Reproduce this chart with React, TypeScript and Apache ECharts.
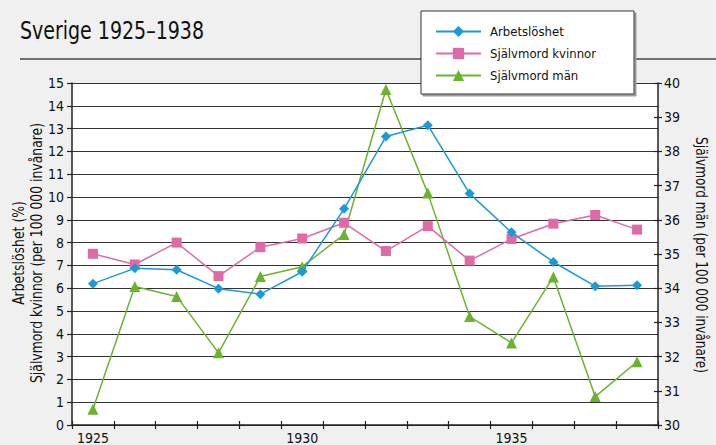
import React, { useEffect, useRef } from "react";
import * as echarts from "echarts";

const years = ["1925","1926","1927","1928","1929","1930","1931","1932","1933","1934","1935","1936","1937","1938"];
const arbetsloshet = [6.2, 6.87, 6.81, 5.98, 5.74, 6.72, 9.48, 12.65, 13.15, 10.15, 8.45, 7.15, 6.09, 6.13];
const sjalvmordKvinnor = [7.51, 7.04, 8.0, 6.53, 7.8, 8.18, 8.87, 7.63, 8.72, 7.21, 8.16, 8.83, 9.21, 8.57];
const sjalvmordMan = [30.46, 34.05, 33.76, 32.11, 34.34, 34.63, 35.57, 39.81, 36.78, 33.17, 32.4, 34.33, 30.83, 31.85];

const seriesNames = ["Arbetslöshet", "Självmord kvinnor", "Självmord män"];
const title = "Sverige 1925–1938";
const leftName1 = "Arbetslöshet (%)";
const leftName2 = "Självmord kvinnor (per 100 000 invånare)";
const rightName = "Självmord män (per 100 000 invånare)";

const FONT = '"DejaVu Sans Condensed", "Noto Sans", sans-serif';

export default function App() {
  const ref = useRef<HTMLDivElement>(null);
  useEffect(() => {
    if (!ref.current) return;
    const chart = echarts.init(ref.current, null, { renderer: "svg" });
    const axisColor = "#222";
    chart.setOption({
      animation: false,
      backgroundColor: "#f0f0f0",
      textStyle: { fontFamily: FONT },
      grid: {
        left: 72, right: 58, top: 83, bottom: 19,
        show: true, backgroundColor: "#ffffff", borderWidth: 0,
      },
      legend: {
        orient: "vertical",
        left: 421,
        top: 11,
        padding: [14, 38, 12, 14],
        itemWidth: 45,
        itemHeight: 14,
        itemGap: 9,
        backgroundColor: "#ffffff",
        borderColor: "#333",
        borderWidth: 1,
        shadowColor: "#999",
        shadowOffsetX: 2,
        shadowOffsetY: 2,
        shadowBlur: 0,
        textStyle: { fontFamily: FONT, fontSize: 13, color: "#111", padding: [0, 0, 0, 4] },
        data: seriesNames,
        z: 10,
      },
      graphic: [
        { type: "line", shape: { x1: 20, y1: 59, x2: 716, y2: 59 }, style: { stroke: "#444", lineWidth: 1.5 }, z: 0 },
        {
          type: "text", x: 20, y: 31, scaleX: 0.88,
          style: { text: title, font: `24px ${FONT}`, fill: "#111", align: "left", verticalAlign: "middle" }, z: 1,
        },
        {
          type: "text", x: 19, y: 253, rotation: Math.PI / 2, scaleX: 0.92,
          style: { text: leftName1, font: `15px ${FONT}`, fill: "#111", align: "center", verticalAlign: "middle" },
        },
        {
          type: "text", x: 37, y: 253, rotation: Math.PI / 2, scaleX: 0.92,
          style: { text: leftName2, font: `15px ${FONT}`, fill: "#111", align: "center", verticalAlign: "middle" },
        },
        {
          type: "text", x: 701, y: 255, rotation: -Math.PI / 2, scaleX: 0.9,
          style: { text: rightName, font: `15px ${FONT}`, fill: "#111", align: "center", verticalAlign: "middle" },
        },
      ],
      xAxis: [
        {
          type: "category",
          data: years,
          boundaryGap: true,
          axisLine: { lineStyle: { color: axisColor, width: 1.5 } },
          axisTick: { show: true, interval: 0, length: 4, lineStyle: { color: axisColor, width: 1.2 } },
          axisLabel: { interval: 4, margin: 6, fontSize: 14, color: "#111", fontFamily: FONT, align: "center" },
          splitLine: { show: false },
        },
        {
          type: "category",
          data: years,
          position: "bottom",
          boundaryGap: true,
          axisLine: { show: false },
          axisTick: { show: true, inside: true, interval: 0, length: 4, lineStyle: { color: axisColor, width: 1.2 } },
          axisLabel: { show: false },
          splitLine: { show: false },
        },
      ],
      yAxis: [
        {
          type: "value",
          min: 0, max: 15, interval: 1,
          axisLine: { show: true, lineStyle: { color: axisColor, width: 1.5 } },
          axisTick: { show: true, length: 5, lineStyle: { color: axisColor, width: 1.2 } },
          axisLabel: { margin: 8, fontSize: 14, color: "#111", fontFamily: FONT },
          splitLine: { show: true, lineStyle: { color: "#333", width: 1 } },
        },
        {
          type: "value",
          position: "right",
          min: 30, max: 40, interval: 1,
          axisLine: { show: true, lineStyle: { color: axisColor, width: 1.5 } },
          axisTick: { show: true, length: 4, lineStyle: { color: axisColor, width: 1.2 } },
          axisLabel: { margin: 6, fontSize: 14, color: "#111", fontFamily: FONT },
          splitLine: { show: false },
        },
        {
          type: "value",
          position: "right",
          min: 30, max: 40, interval: 1,
          axisLine: { show: false },
          axisTick: { show: true, inside: true, length: 4, lineStyle: { color: axisColor, width: 1.2 } },
          axisLabel: { show: false },
          splitLine: { show: false },
        },
      ],
      series: [
        {
          name: seriesNames[0], type: "line", data: arbetsloshet, yAxisIndex: 0,
          symbol: "diamond", symbolSize: 10,
          lineStyle: { color: "#1a9ad6", width: 1.5 },
          itemStyle: { color: "#1a9ad6" }, z: 4,
        },
        {
          name: seriesNames[1], type: "line", data: sjalvmordKvinnor, yAxisIndex: 0,
          symbol: "rect", symbolSize: 10,
          lineStyle: { color: "#e06aa6", width: 1.5 },
          itemStyle: { color: "#e06aa6" }, z: 3,
        },
        {
          name: seriesNames[2], type: "line", data: sjalvmordMan, yAxisIndex: 1,
          symbol: "triangle", symbolSize: 11,
          lineStyle: { color: "#6ab42d", width: 1.5 },
          itemStyle: { color: "#6ab42d" }, z: 2,
        },
      ],
    });
    return () => chart.dispose();
  }, []);
  return <div ref={ref} style={{ position: "fixed", left: 0, top: 0, width: 716, height: 445 }} />;
}
